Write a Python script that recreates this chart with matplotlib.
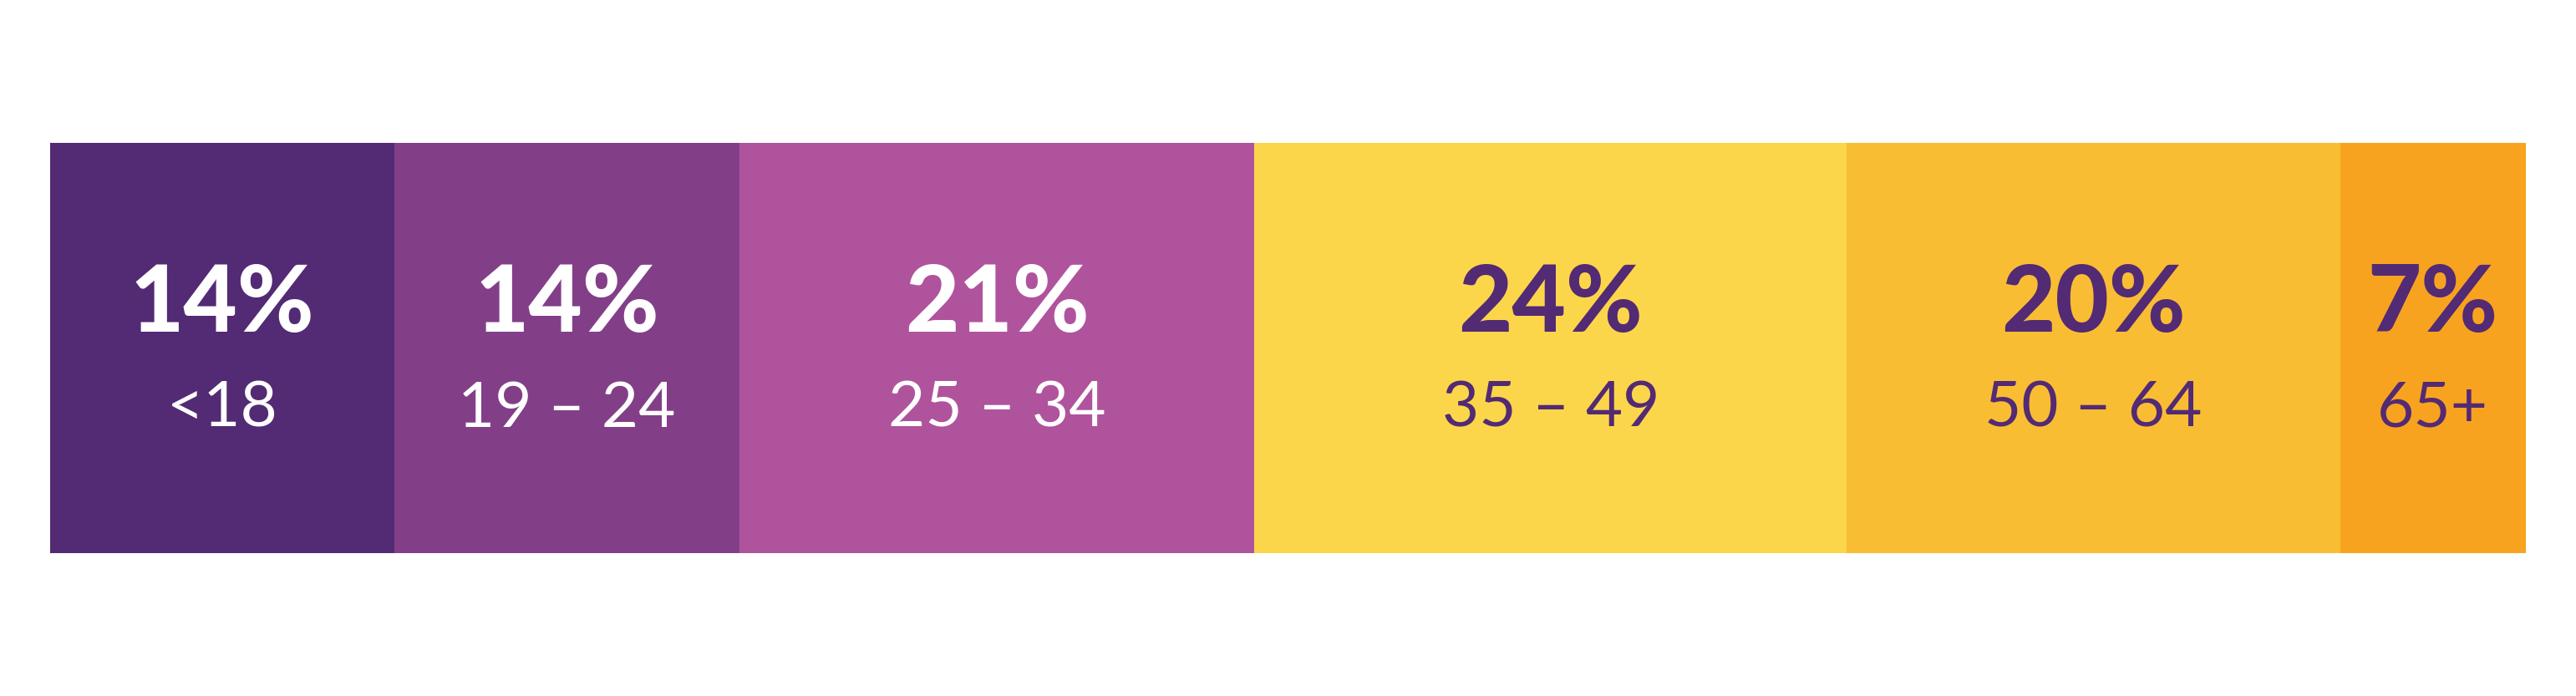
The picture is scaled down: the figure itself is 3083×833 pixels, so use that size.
import matplotlib
matplotlib.use("Agg")
import matplotlib.pyplot as plt

# Data
age_groups = ["<18", "19 \u2013 24", "25 \u2013 34", "35 \u2013 49", "50 \u2013 64", "65+"]
shares = [13.9, 13.9, 20.8, 23.9, 19.9, 7.5]
pct_labels = ["14%", "14%", "21%", "24%", "20%", "7%"]

colors = ["#532a74", "#823f88", "#b0539d", "#fbd64a", "#f9bd33", "#f8a31f"]
text_colors = ["white", "white", "white", "#532a74", "#532a74", "#532a74"]

W, H = 3083, 833
dpi = 100
fig = plt.figure(figsize=(W / dpi, H / dpi), dpi=dpi)
ax = fig.add_axes([0, 0, 1, 1])

total = sum(shares)
left_px, right_px = 60, 3023
top_px, bot_px = 171, 662
ppu = (right_px - left_px) / total
ax.set_xlim(-left_px / ppu, total + (W - right_px) / ppu)
bar_h = bot_px - top_px
ax.set_ylim(-0.5 - (H - bot_px) / bar_h, 0.5 + top_px / bar_h)

left = 0
for share, col, tcol, pl, ag in zip(shares, colors, text_colors, pct_labels, age_groups):
    ax.barh(0, share, left=left, height=1.0, color=col, edgecolor="none")
    cx = left + share / 2
    ax.text(cx, 0.040, pl, ha="center", va="baseline", color=tcol,
            fontsize=80, fontweight="black", family=["Lato", "DejaVu Sans"])
    ax.text(cx, -0.192, ag, ha="center", va="baseline", color=tcol,
            fontsize=55, fontweight="normal", family=["Lato", "DejaVu Sans"])
    left += share

ax.axis("off")
fig.savefig("out.png", dpi=dpi, facecolor="white")
